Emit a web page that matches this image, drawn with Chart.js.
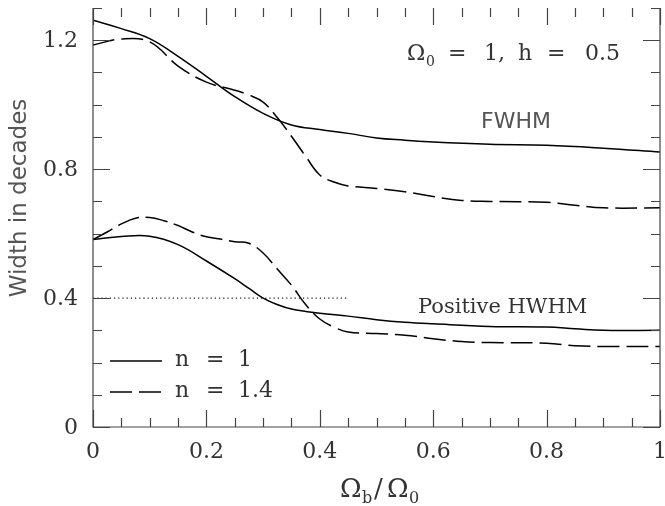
<!DOCTYPE html>
<html>
<head>
<meta charset="utf-8">
<script src="https://cdn.jsdelivr.net/npm/chart.js@4/dist/chart.umd.min.js"></script>
<style>
html,body{margin:0;padding:0;background:#fff;}
canvas{display:block;}
</style>
</head>
<body>
<canvas id="c" width="665" height="506"></canvas>
<script>
// ---- data ----
const fwhmN1X   = [0,0.05,0.1,0.15,0.2,0.25,0.3,0.35,0.4,0.45,0.5,0.55,0.6,0.7,0.8,0.9,1.0];
const fwhmN1Y   = [1.262,1.236,1.205,1.15,1.088,1.025,0.973,0.937,0.923,0.911,0.897,0.89,0.884,0.877,0.874,0.865,0.853];
const fwhmN14X  = [0,0.05,0.1,0.15,0.2,0.25,0.275,0.3,0.325,0.35,0.375,0.4,0.425,0.45,0.5,0.55,0.6,0.65,0.7,0.8,0.85,0.9,1.0];
const fwhmN14Y  = [1.185,1.204,1.195,1.12,1.07,1.045,1.03,1.008,0.96,0.902,0.84,0.782,0.76,0.748,0.74,0.73,0.715,0.703,0.70,0.697,0.688,0.68,0.68];
const hwhmN1X   = [0,0.05,0.1,0.15,0.2,0.25,0.275,0.3,0.325,0.35,0.4,0.45,0.5,0.55,0.6,0.7,0.8,0.85,0.9,1.0];
const hwhmN1Y   = [0.582,0.591,0.592,0.566,0.515,0.46,0.43,0.40,0.38,0.366,0.353,0.344,0.333,0.325,0.32,0.312,0.31,0.305,0.30,0.30];
const hwhmN14X  = [0,0.025,0.05,0.075,0.1,0.125,0.15,0.175,0.2,0.225,0.25,0.275,0.3,0.325,0.35,0.375,0.4,0.425,0.45,0.5,0.55,0.6,0.65,0.7,0.8,0.85,0.9,1.0];
const hwhmN14Y  = [0.582,0.605,0.63,0.648,0.65,0.64,0.625,0.605,0.59,0.583,0.575,0.57,0.54,0.49,0.44,0.38,0.335,0.31,0.295,0.29,0.285,0.274,0.265,0.262,0.26,0.252,0.25,0.25];
const refLineX  = [0,0.45];
const refLineY  = [0.4,0.4];

const xTickValues = [0,0.2,0.4,0.6,0.8,1];
const xTickLabels = ['0','0.2','0.4','0.6','0.8','1'];
const yTickValues = [0,0.4,0.8,1.2];
const yTickLabels = ['0','0.4','0.8','1.2'];
const seriesNames = ['n = 1','n = 1.4'];

function pts(xs,ys){return xs.map((x,i)=>({x:x,y:ys[i]}));}

const INK = '#000';
const TXT = '#333';
const DASH = [22,7];

function tokens(ctx, list, y){
  list.forEach(t=>{ ctx.font = t[2]; ctx.fillText(t[0], t[1], y + (t[3]||0)); });
}

const frame = {
  id:'frame',
  afterDatasetsDraw(chart){
    const ctx = chart.ctx, a = chart.chartArea;
    const xs = chart.scales.x, ys = chart.scales.y;
    ctx.save();
    ctx.strokeStyle = '#444';
    ctx.lineWidth = 1.2;
    ctx.beginPath();
    ctx.moveTo(a.left, a.top); ctx.lineTo(a.left, a.bottom);
    ctx.lineTo(a.right, a.bottom); ctx.lineTo(a.right, a.top);
    ctx.stroke();
    for (let i=0;i<=20;i++){
      const v = i*0.05, px = Math.round(xs.getPixelForValue(v))+0.5;
      const len = (i%4===0)?17:9;
      ctx.beginPath();
      ctx.moveTo(px,a.bottom); ctx.lineTo(px,a.bottom-len);
      ctx.moveTo(px,a.top); ctx.lineTo(px,a.top+len);
      ctx.stroke();
    }
    for (let i=0;i<=13;i++){
      const v = i*0.1, py = Math.round(ys.getPixelForValue(v))+0.5;
      const len = (i%4===0)?17:9;
      ctx.beginPath();
      ctx.moveTo(a.left,py); ctx.lineTo(a.left+len,py);
      ctx.moveTo(a.right,py); ctx.lineTo(a.right-len,py);
      ctx.stroke();
    }
    ctx.fillStyle = TXT;
    ctx.font = '22px "DejaVu Serif"';
    ctx.textBaseline = 'middle';
    ctx.textAlign = 'center';
    xTickValues.forEach((v,i)=>{
      ctx.fillText(xTickLabels[i], xs.getPixelForValue(v), 452);
    });
    ctx.textAlign = 'right';
    yTickValues.forEach((v,i)=>{
      ctx.fillText(yTickLabels[i], 78, ys.getPixelForValue(v)+1);
    });
    // x axis title  Ωb/Ω0
    ctx.textBaseline = 'alphabetic';
    ctx.textAlign = 'left';
    const big = '26px "DejaVu Serif"', sub = '16px "DejaVu Serif"';
    tokens(ctx, [['\u03A9',340,big],['b',362,sub,6],['/',374,big],['\u03A9',387,big],['0',409,sub,6]], 497);
    // y axis title
    ctx.save();
    ctx.translate(26, 198);
    ctx.rotate(-Math.PI/2);
    ctx.textAlign = 'center';
    ctx.fillStyle = '#555';
    ctx.font = '23px "DejaVu Sans"';
    ctx.fillText('Width in decades', 0, 0);
    ctx.restore();
    // annotation Ω0 = 1, h = 0.5
    const s22 = '22px "DejaVu Serif"', s14 = '14px "DejaVu Serif"';
    tokens(ctx, [['\u03A9',407,s22],['0',426,s14,6],['=',448,s22],['1,',484,s22],['h',518,s22],['=',547,s22],['0.5',585,s22]], 60);
    // FWHM
    ctx.fillStyle = '#555';
    ctx.font = '22px "DejaVu Sans"';
    ctx.fillText('FWHM', 481, 128);
    ctx.fillStyle = TXT;
    // Positive HWHM
    ctx.font = '21px "DejaVu Serif"';
    ctx.fillText('Positive HWHM', 418, 313);
    // legend
    const ds = chart.data.datasets;
    const rows = [366, 397];
    [0,1].forEach(k=>{
      const d = ds[k===0?2:3];
      const ly = rows[k]-5;
      ctx.save();
      ctx.strokeStyle = d.borderColor;
      ctx.lineWidth = d.borderWidth;
      ctx.setLineDash(d.borderDash||[]);
      ctx.beginPath(); ctx.moveTo(110,ly); ctx.lineTo(162,ly); ctx.stroke();
      ctx.restore();
      const parts = seriesNames[k].split(' ');
      tokens(ctx, [[parts[0],175,s22],[parts[1],206,s22],[parts[2],238,s22]], rows[k]);
    });
    ctx.restore();
  }
};

const lineBase = {pointRadius:0, borderColor:INK, borderWidth:1.5, fill:false, tension:0.4};

new Chart(document.getElementById('c'), {
  type:'line',
  data:{
    datasets:[
      Object.assign({label:'FWHM, n = 1', data:pts(fwhmN1X,fwhmN1Y)}, lineBase),
      Object.assign({label:'FWHM, n = 1.4', data:pts(fwhmN14X,fwhmN14Y), borderDash:DASH}, lineBase),
      Object.assign({label:seriesNames[0], data:pts(hwhmN1X,hwhmN1Y)}, lineBase),
      Object.assign({label:seriesNames[1], data:pts(hwhmN14X,hwhmN14Y), borderDash:DASH}, lineBase),
      {label:'reference', data:pts(refLineX,refLineY), pointRadius:0, borderColor:'#222', borderWidth:1.2, borderDash:[1.2,3], fill:false}
    ]
  },
  options:{
    responsive:false,
    animation:false,
    devicePixelRatio:1,
    layout:{padding:{left:93, right:5, top:8, bottom:79}},
    plugins:{legend:{display:false}, tooltip:{enabled:false}},
    scales:{
      x:{type:'linear', min:0, max:1, display:false},
      y:{type:'linear', min:0, max:1.3, display:false}
    }
  },
  plugins:[frame]
});
</script>
</body>
</html>
